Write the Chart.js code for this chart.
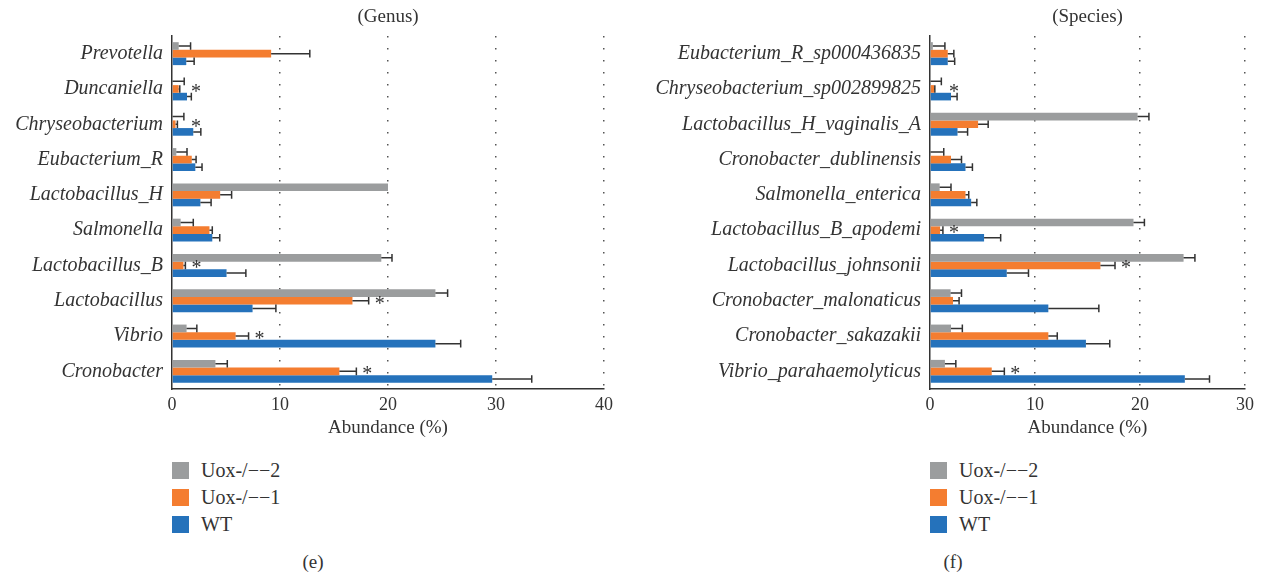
<!DOCTYPE html>
<html>
<head>
<meta charset="utf-8">
<script src="https://cdn.jsdelivr.net/npm/chart.js@4.4.0/dist/chart.umd.min.js"></script>
<style>
    body { margin: 0; background: #fff; width: 1265px; height: 578px; position: relative; overflow: hidden;
           font-family: 'Liberation Serif', serif; color: #333; }
    .panel { position: absolute; top: 0; height: 439px; }
    #genusWrap { left: 0; width: 630px; }
    #speciesWrap { left: 630px; width: 635px; }
    .legend { position: absolute; top: 457px; font-size: 20px; }
    .item { position: relative; height: 27px; line-height: 27px; white-space: nowrap; }
    .sw { position: absolute; left: 0; top: 5px; width: 17px; height: 17px; }
    .item span { position: absolute; left: 29px; top: 0; }
    .caption { position: absolute; top: 551px; font-size: 19px; transform: translateX(-50%); }
</style>
</head>
<body>
<div class="panel" id="genusWrap"><canvas id="genusChart" width="630" height="439"></canvas></div>
<div class="panel" id="speciesWrap"><canvas id="speciesChart" width="635" height="439"></canvas></div>

<div class="legend" id="genusLegend" style="left:172px"></div>
<div class="legend" id="speciesLegend" style="left:930px"></div>
<div class="caption" style="left:313px">(e)</div>
<div class="caption" style="left:953px">(f)</div>

<script>
// groups, top bar to bottom bar inside each category
const groupNames = ['Uox-/\u2212\u22122', 'Uox-/\u2212\u22121', 'WT'];
const groupColors = ['#9b9d9e', '#f47d30', '#2572bb'];

// Genus panel
const genusLabels = ['Prevotella', 'Duncaniella', 'Chryseobacterium', 'Eubacterium_R', 'Lactobacillus_H',
    'Salmonella', 'Lactobacillus_B', 'Lactobacillus', 'Vibrio', 'Cronobacter'];
const genusUox2 = [0.62, 0.05, 0.05, 0.4, 20.0, 0.8, 19.38, 24.39, 1.35, 4.02];
const genusUox2Err = [1.72, 1.13, 1.1, 1.39, 20.0, 1.97, 20.37, 25.52, 2.3, 5.12];
const genusUox1 = [9.18, 0.62, 0.33, 1.83, 4.46, 3.47, 1.06, 16.71, 5.89, 15.5];
const genusUox1Err = [12.76, 0.72, 0.5, 2.23, 5.52, 3.73, 1.24, 18.21, 7.09, 17.07];
const genusWT = [1.32, 1.39, 1.97, 2.16, 2.63, 3.73, 5.05, 7.46, 24.39, 29.65];
const genusWTErr = [2.05, 1.79, 2.67, 2.78, 3.62, 4.42, 6.84, 9.62, 26.73, 33.31];
const genusStars = [false, true, true, false, false, false, true, true, true, true];
const genusMax = 40;

// Species panel
const speciesLabels = ['Eubacterium_R_sp000436835', 'Chryseobacterium_sp002899825', 'Lactobacillus_H_vaginalis_A',
    'Cronobacter_dublinensis', 'Salmonella_enterica', 'Lactobacillus_B_apodemi', 'Lactobacillus_johnsonii',
    'Cronobacter_malonaticus', 'Cronobacter_sakazakii', 'Vibrio_parahaemolyticus'];
const speciesUox2 = [0.27, 0.05, 19.77, 0.05, 0.92, 19.38, 24.15, 1.96, 2.0, 1.42];
const speciesUox2Err = [1.42, 1.08, 20.85, 1.31, 2.0, 20.42, 25.23, 3.0, 3.08, 2.46];
const speciesUox1 = [1.69, 0.38, 4.58, 2.0, 3.38, 0.96, 16.23, 2.19, 11.27, 5.88];
const speciesUox1Err = [2.27, 0.46, 5.54, 3.0, 3.69, 1.23, 17.62, 2.77, 12.12, 7.08];
const speciesWT = [1.69, 2.0, 2.62, 3.38, 3.92, 5.15, 7.31, 11.27, 14.85, 24.27];
const speciesWTErr = [2.35, 2.58, 3.58, 4.04, 4.46, 6.73, 9.38, 16.08, 17.12, 26.62];
const speciesStars = [false, true, false, false, false, true, true, false, false, true];
const speciesMax = 30;

const fontFamily = "'Liberation Serif', serif";

function buildChart(canvasId, title, labels, values, errors, stars, xMax, yWidth, rightPad) {
    const datasets = groupNames.map((name, i) => ({
        label: name,
        data: values[i],
        errors: errors[i],
        backgroundColor: groupColors[i],
        categoryPercentage: 0.65,
        barPercentage: 1.0
    }));

    // error bars, significance stars and panel title
    const extras = {
        id: 'extras',
        afterDatasetsDraw(chart) {
            const ctx = chart.ctx;
            const xs = chart.scales.x;
            ctx.save();
            ctx.strokeStyle = '#333';
            ctx.lineWidth = 1.5;
            chart.data.datasets.forEach((ds, i) => {
                chart.getDatasetMeta(i).data.forEach((bar, j) => {
                    const hi = ds.errors[j];
                    if (hi <= ds.data[j]) return;
                    const x1 = xs.getPixelForValue(hi);
                    ctx.beginPath();
                    ctx.moveTo(bar.x, bar.y);
                    ctx.lineTo(x1, bar.y);
                    ctx.moveTo(x1, bar.y - bar.height / 2);
                    ctx.lineTo(x1, bar.y + bar.height / 2);
                    ctx.stroke();
                });
            });

            ctx.fillStyle = '#333';
            ctx.font = '20px ' + fontFamily;
            ctx.textAlign = 'center';
            ctx.textBaseline = 'alphabetic';
            const orange = chart.getDatasetMeta(1).data;
            stars.forEach((s, j) => {
                if (!s) return;
                const x = Math.max(xs.getPixelForValue(errors[1][j]) + 11, chart.chartArea.left + 24);
                ctx.fillText('*', x, orange[j].y + 9);
            });

            ctx.font = '19px ' + fontFamily;
            ctx.textBaseline = 'middle';
            ctx.fillText(title, (chart.chartArea.left + chart.chartArea.right) / 2, 17);
            ctx.restore();
        }
    };

    return new Chart(document.getElementById(canvasId), {
        type: 'bar',
        data: { labels: labels, datasets: datasets },
        plugins: [extras],
        options: {
            indexAxis: 'y',
            responsive: false,
            animation: false,
            layout: { padding: { left: 0, top: 36, right: rightPad, bottom: 0 } },
            plugins: { legend: { display: false }, tooltip: { enabled: false } },
            scales: {
                x: {
                    min: 0,
                    max: xMax,
                    ticks: { stepSize: 10, color: '#333', padding: 5, font: { family: fontFamily, size: 18 } },
                    grid: {
                        drawTicks: false,
                        lineWidth: 1.5,
                        color: c => (c.tick && c.tick.value === 0) ? 'rgba(0,0,0,0)' : '#555'
                    },
                    border: { display: true, color: '#333', width: 1.5, dash: [1.5, 10.5] },
                    title: {
                        display: true, text: 'Abundance (%)', color: '#333',
                        padding: { top: 0, bottom: 0 }, font: { family: fontFamily, size: 19 }
                    },
                    afterFit: s => { s.height = 50; }
                },
                y: {
                    ticks: { color: '#333', padding: 9, font: { family: fontFamily, size: 20, style: 'italic' } },
                    grid: { display: false, drawTicks: false },
                    border: { display: true, color: '#333', width: 1.5 },
                    afterFit: s => { s.width = yWidth; }
                }
            }
        }
    });
}

function buildLegend(id) {
    const box = document.getElementById(id);
    groupNames.forEach((name, i) => {
        const item = document.createElement('div');
        item.className = 'item';
        item.innerHTML = '<div class="sw" style="background:' + groupColors[i] + '"></div><span>' + name + '</span>';
        box.appendChild(item);
    });
}

buildChart('genusChart', '(Genus)', genusLabels,
    [genusUox2, genusUox1, genusWT], [genusUox2Err, genusUox1Err, genusWTErr],
    genusStars, genusMax, 172, 26);
buildChart('speciesChart', '(Species)', speciesLabels,
    [speciesUox2, speciesUox1, speciesWT], [speciesUox2Err, speciesUox1Err, speciesWTErr],
    speciesStars, speciesMax, 300, 20);
buildLegend('genusLegend');
buildLegend('speciesLegend');
</script>
</body>
</html>
